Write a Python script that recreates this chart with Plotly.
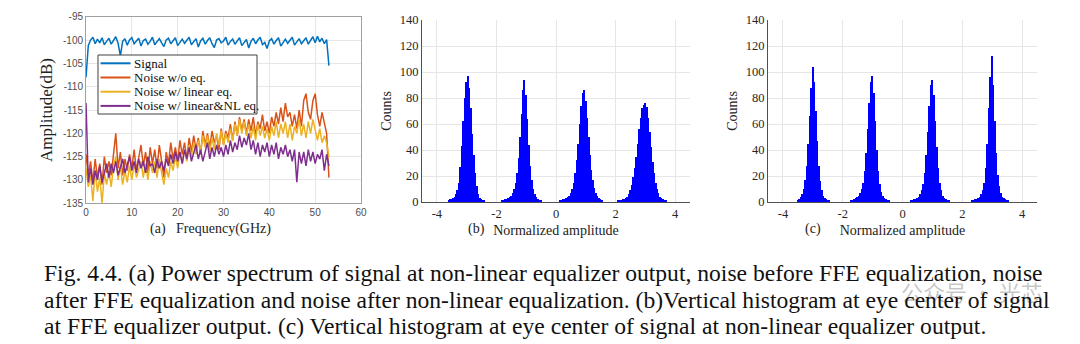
import plotly.graph_objects as go

# ---------------- data ----------------
# (a) power spectra, sampled every 0.5 GHz from 0 GHz to 53 GHz
freq_start_ghz = 0.0
freq_step_ghz = 0.5

signal_db = [
    -108.0, -101.2, -100.0, -99.4, -100.8, -99.8, -100.6, -99.5, -101.0, -100.2,
    -99.6, -100.9, -100.1, -99.3, -100.7, -103.4, -100.3, -99.7, -101.1, -100.0,
    -99.5, -100.8, -100.2, -99.6, -101.3, -100.1, -99.8, -100.9, -100.3, -99.4,
    -101.0, -100.2, -99.7, -100.6, -101.4, -100.0, -99.6, -100.8, -100.1, -99.5,
    -101.2, -100.4, -99.8, -100.7, -100.0, -99.4, -101.0, -100.3, -99.7, -101.5,
    -100.2, -99.6, -100.9, -100.1, -99.5, -100.8, -101.6, -100.0, -99.7, -100.6,
    -100.2, -99.4, -101.1, -100.3, -99.8, -100.9, -100.1, -99.5, -101.2, -100.4,
    -99.9, -101.7, -100.3, -99.6, -100.8, -100.0, -99.4, -101.0, -100.5, -101.8,
    -100.2, -99.7, -100.9, -100.1, -99.5, -101.3, -100.4, -99.8, -100.7, -100.0,
    -99.4, -101.1, -100.3, -99.7, -100.8, -100.2, -99.5, -100.9, -100.1, -99.3,
    -100.6, -99.2, -100.4, -99.6, -100.8, -99.9, -105.5,
]

noise_wo_eq_db = [
    -124.5, -129.0, -126.0, -130.5, -125.5, -129.5, -126.5, -131.0, -125.0, -128.5,
    -126.0, -129.0, -124.5, -120.0, -127.5, -124.0, -129.0, -125.5, -128.0, -124.5,
    -127.5, -123.5, -128.0, -125.0, -122.5, -127.0, -124.0, -128.5, -123.0, -126.5,
    -123.5, -127.5, -122.5, -126.0, -129.5, -124.0, -126.5, -122.0, -125.5, -123.0,
    -126.0, -121.5, -124.5, -122.0, -125.5, -121.0, -124.0, -120.5, -123.5, -121.0,
    -124.5, -119.5, -122.5, -120.0, -123.0, -119.5, -122.0, -120.5, -123.5, -119.0,
    -122.5, -119.5, -121.0, -118.0, -121.5, -117.5, -120.5, -116.5, -119.5, -117.0,
    -120.0, -117.0, -119.5, -116.5, -120.5, -117.5, -119.0, -116.0, -119.5, -117.5,
    -120.0, -116.5, -118.5, -115.5, -118.0, -114.5, -117.5, -113.5, -116.5, -115.5,
    -118.5, -116.0, -119.0, -115.0, -118.5, -113.0, -111.5, -115.5, -117.0, -113.0,
    -111.5, -116.0, -118.5, -115.5, -117.5, -120.0, -129.5,
]

noise_linear_eq_db = [
    -127.5, -131.5, -129.0, -134.5, -128.0, -132.5, -129.5, -135.0, -128.5, -131.0,
    -128.0, -131.5, -127.0, -125.0, -130.0, -127.0, -131.0, -128.0, -130.5, -127.0,
    -130.0, -126.5, -129.5, -127.5, -126.0, -129.5, -126.5, -130.0, -126.0, -128.5,
    -126.0, -129.5, -125.5, -128.5, -131.0, -127.5, -129.5, -126.0, -128.0, -125.0,
    -127.5, -124.0, -126.5, -123.5, -126.0, -122.5, -125.0, -122.0, -124.5, -121.5,
    -124.0, -120.5, -123.0, -120.5, -124.0, -121.0, -123.5, -120.0, -122.5, -119.5,
    -122.5, -120.0, -122.0, -119.0, -121.5, -118.0, -120.5, -117.0, -120.0, -117.5,
    -120.5, -118.0, -121.0, -118.5, -121.5, -118.0, -120.5, -118.5, -121.0, -119.0,
    -121.5, -118.5, -120.5, -117.5, -121.0, -118.0, -120.0, -117.5, -121.0, -118.0,
    -121.5, -118.5, -120.0, -117.0, -120.5, -118.0, -121.0, -117.5, -120.0, -117.0,
    -119.5, -121.5, -119.0, -122.0, -120.5, -122.0, -125.0,
]

noise_linear_nl_eq_db = [
    -113.5, -130.5, -127.5, -131.0, -128.0, -130.0, -127.0, -130.5, -128.5, -126.5,
    -129.5, -126.5, -128.5, -126.0, -129.0, -127.5, -125.5, -128.5, -127.0, -125.0,
    -128.0, -126.0, -128.5, -125.5, -127.5, -126.0, -128.5, -125.0, -127.0, -126.5,
    -128.5, -125.5, -127.5, -126.0, -128.0, -125.5, -127.0, -124.5, -126.5, -124.0,
    -126.0, -124.0, -126.5, -123.5, -125.5, -123.0, -126.0, -124.0, -122.5, -125.5,
    -123.5, -126.0, -124.0, -122.0, -125.5, -123.0, -125.0, -122.5, -124.5, -123.0,
    -125.0, -122.5, -124.5, -121.5, -124.0, -122.0, -123.5, -120.5, -123.0, -121.0,
    -122.5, -120.0, -123.5, -121.5, -124.5, -122.0, -125.0, -122.5, -124.0, -122.0,
    -125.0, -122.5, -124.5, -122.0, -125.5, -123.0, -124.5, -122.5, -125.0, -123.5,
    -126.0, -123.5, -130.5, -124.0, -126.5, -124.0, -127.0, -123.5, -126.0, -124.0,
    -126.5, -124.5, -125.5, -123.5, -128.0, -124.5, -127.0,
]

series_names = ["Signal", "Noise w/o eq.", "Noise w/ linear eq.", "Noise w/ linear&NL eq."]

# (b), (c) histograms: bins of 0.05 starting at -3.70 (151 bins up to 3.80)
amp_bin_start = -3.70
amp_bin_width = 0.05

counts_ffe = [
    0, 0, 1, 2, 2, 3, 4, 6, 9, 15,
    27, 43, 62, 80, 92, 97, 88, 72, 52, 36,
    22, 12, 6, 3, 2, 1, 1, 0, 0, 0,
    0, 0, 0, 0, 0, 0, 0, 0, 1, 1,
    2, 2, 3, 4, 5, 7, 10, 15, 22, 34,
    50, 68, 86, 94, 82, 64, 44, 28, 17, 10,
    6, 4, 2, 1, 1, 0, 0, 0, 0, 0,
    0, 0, 0, 0, 0, 0, 0, 1, 1, 2,
    2, 3, 4, 5, 7, 10, 15, 22, 32, 45,
    60, 74, 84, 86, 78, 65, 50, 36, 25, 17,
    11, 7, 5, 3, 2, 1, 0, 0, 0, 0,
    0, 0, 0, 0, 0, 0, 1, 1, 1, 2,
    2, 3, 4, 6, 9, 13, 19, 26, 35, 45,
    56, 65, 72, 75, 76, 73, 65, 54, 42, 31,
    22, 15, 10, 7, 4, 3, 2, 1, 1, 0,
    0,
]

counts_nl = [
    0, 0, 0, 0, 1, 2, 4, 6, 10, 17,
    28, 45, 66, 88, 104, 92, 70, 47, 28, 16,
    9, 5, 3, 2, 1, 1, 0, 0, 0, 0,
    0, 0, 0, 0, 0, 0, 0, 0, 0, 0,
    1, 1, 2, 3, 4, 5, 7, 10, 15, 24,
    38, 56, 76, 92, 97, 84, 62, 40, 24, 14,
    8, 5, 3, 2, 1, 1, 0, 0, 0, 0,
    0, 0, 0, 0, 0, 0, 0, 0, 0, 0,
    1, 1, 2, 2, 3, 4, 6, 9, 14, 22,
    36, 54, 74, 90, 94, 82, 62, 42, 26, 15,
    9, 5, 3, 2, 1, 1, 0, 0, 0, 0,
    0, 0, 0, 0, 0, 0, 0, 0, 0, 0,
    0, 1, 1, 2, 2, 3, 4, 6, 9, 15,
    26, 45, 72, 96, 112, 90, 62, 38, 21, 12,
    7, 4, 3, 2, 1, 1, 0, 0, 0, 0,
    0,
]

freq_ticks = [0, 10, 20, 30, 40, 50, 60]
freq_tick_labels = ["0", "10", "20", "30", "40", "50", "60"]
amp_db_ticks = [-135, -130, -125, -120, -115, -110, -105, -100, -95]
amp_db_tick_labels = ["-135", "-130", "-125", "-120", "-115", "-110", "-105", "-100", "-95"]
norm_amp_ticks = [-4, -2, 0, 2, 4]
norm_amp_tick_labels = ["-4", "-2", "0", "2", "4"]
count_ticks = [0, 20, 40, 60, 80, 100, 120, 140]
count_tick_labels = ["0", "20", "40", "60", "80", "100", "120", "140"]

panel_tags = ["(a)", "(b)", "(c)"]
caption_lines = [
    "Fig. 4.4. (a) Power spectrum of signal at non-linear equalizer output, noise before FFE equalization, noise",
    "after FFE equalization and noise after non-linear equalization. (b)Vertical histogram at eye center of signal",
    "at FFE equalizer output. (c) Vertical histogram at eye center of signal at non-linear equalizer output.",
]
watermark = "公众号 · 光芯"

# ---------------- styles ----------------
W, H = 1080, 344
SERIF = "Liberation Serif, Times New Roman, serif"
SANS = "Liberation Sans, Arial, sans-serif"
line_colors = ["#0072BD", "#D95319", "#EDB120", "#7E2F8E"]


def px_x(p):
    return p / W


def px_y(p):
    return 1 - p / H


fig = go.Figure()

for name, vals, col in zip(series_names,
                           [signal_db, noise_wo_eq_db, noise_linear_eq_db, noise_linear_nl_eq_db],
                           line_colors):
    fig.add_trace(go.Scatter(
        y=vals, x0=freq_start_ghz, dx=freq_step_ghz, mode="lines", name=name,
        line=dict(color=col, width=1.5), xaxis="x", yaxis="y", showlegend=False,
    ))

for counts, xa, ya in [(counts_ffe, "x2", "y2"), (counts_nl, "x3", "y3")]:
    fig.add_trace(go.Bar(
        y=counts, x0=amp_bin_start, dx=amp_bin_width, xaxis=xa, yaxis=ya,
        marker=dict(color="#0000FF", line=dict(width=0)), showlegend=False,
    ))

grid = "#e6e6e6"
a_tick = dict(family=SANS, size=10, color="#4d4d4d")
h_tick = dict(family=SERIF, size=12.5, color="#262626")
title_font = dict(family=SERIF, size=14, color="#222222")

fig.update_layout(
    template="none",
    width=W, height=H,
    margin=dict(l=0, r=0, t=0, b=0),
    paper_bgcolor="white", plot_bgcolor="white",
    bargap=0,
    showlegend=False,
    xaxis=dict(
        domain=[px_x(86), px_x(361)], range=[0, 60],
        tickvals=freq_ticks, ticktext=freq_tick_labels,
        showgrid=True, gridcolor=grid, zeroline=False,
        showline=True, mirror=True, linecolor="#a0a0a0", linewidth=1,
        ticks="", tickfont=a_tick, anchor="y",
        title=dict(text="Frequency(GHz)", font=title_font, standoff=5),
    ),
    yaxis=dict(
        domain=[px_y(203.3), px_y(16.7)], range=[-135, -95],
        tickvals=amp_db_ticks, ticktext=amp_db_tick_labels,
        showgrid=True, gridcolor=grid, zeroline=False,
        showline=True, mirror=True, linecolor="#a0a0a0", linewidth=1,
        ticks="", tickfont=a_tick, anchor="x",
        title=dict(text="Amplitude(dB)", font=dict(family=SERIF, size=17, color="#222222"), standoff=6),
    ),
    xaxis2=dict(
        domain=[px_x(422), px_x(690)], range=[-4.5, 4.5],
        tickvals=norm_amp_ticks, ticktext=norm_amp_tick_labels,
        showgrid=True, gridcolor=grid, zeroline=False,
        showline=True, linecolor="#505050", linewidth=1,
        ticks="", tickfont=h_tick, anchor="y2",
        title=dict(text="Normalized amplitude", font=title_font, standoff=5),
    ),
    yaxis2=dict(
        domain=[px_y(202), px_y(20)], range=[0, 140],
        tickvals=count_ticks, ticktext=count_tick_labels,
        showgrid=True, gridcolor=grid, zeroline=False,
        showline=True, linecolor="#505050", linewidth=1,
        ticks="", tickfont=h_tick, anchor="x2",
        title=dict(text="Counts", font=title_font, standoff=4),
    ),
    xaxis3=dict(
        domain=[px_x(768), px_x(1037)], range=[-4.5, 4.5],
        tickvals=norm_amp_ticks, ticktext=norm_amp_tick_labels,
        showgrid=True, gridcolor=grid, zeroline=False,
        showline=True, linecolor="#505050", linewidth=1,
        ticks="", tickfont=h_tick, anchor="y3",
        title=dict(text="Normalized amplitude", font=title_font, standoff=5),
    ),
    yaxis3=dict(
        domain=[px_y(202), px_y(20)], range=[0, 140],
        tickvals=count_ticks, ticktext=count_tick_labels,
        showgrid=True, gridcolor=grid, zeroline=False,
        showline=True, linecolor="#505050", linewidth=1,
        ticks="", tickfont=h_tick, anchor="x3",
        title=dict(text="Counts", font=title_font, standoff=4),
    ),
)

# panel tags next to the x-axis titles
for tag, cx in zip(panel_tags, [157.5, 476, 813]):
    fig.add_annotation(
        text=tag, xref="paper", yref="paper", x=px_x(cx), y=px_y(229),
        xanchor="center", yanchor="middle", showarrow=False, font=title_font,
    )

# legend box of panel (a)
fig.add_shape(type="rect", xref="paper", yref="paper",
              x0=px_x(98), x1=px_x(257), y0=px_y(114), y1=px_y(55),
              fillcolor="white", line=dict(color="#404040", width=1), layer="above")
for name, col, cy in zip(series_names, line_colors, [63.3, 77.5, 91.7, 105.9]):
    fig.add_shape(type="line", xref="paper", yref="paper",
                  x0=px_x(100.5), x1=px_x(130.5), y0=px_y(cy), y1=px_y(cy),
                  line=dict(color=col, width=2), layer="above")
    fig.add_annotation(
        text=name, xref="paper", yref="paper", x=px_x(131.5), y=px_y(cy),
        xanchor="left", yanchor="middle", showarrow=False,
        font=dict(family=SERIF, size=13, color="#111111"),
    )

# faint watermark (drawn under the caption, as in the source image)
fig.add_annotation(
    text=watermark, xref="paper", yref="paper",
    x=px_x(972), y=px_y(291), xanchor="center", yanchor="middle",
    showarrow=False, font=dict(family="Noto Sans CJK SC", size=22, color="rgba(150,150,150,0.55)"),
)

caption_baselines = [281, 308, 334]
for text, base in zip(caption_lines, caption_baselines):
    fig.add_annotation(
        text=text, xref="paper", yref="paper",
        x=px_x(41.5), y=px_y(base - 8), xanchor="left", yanchor="middle",
        showarrow=False, font=dict(family=SERIF, size=23.6, color="#111111"),
    )

fig.write_html("out.html")
